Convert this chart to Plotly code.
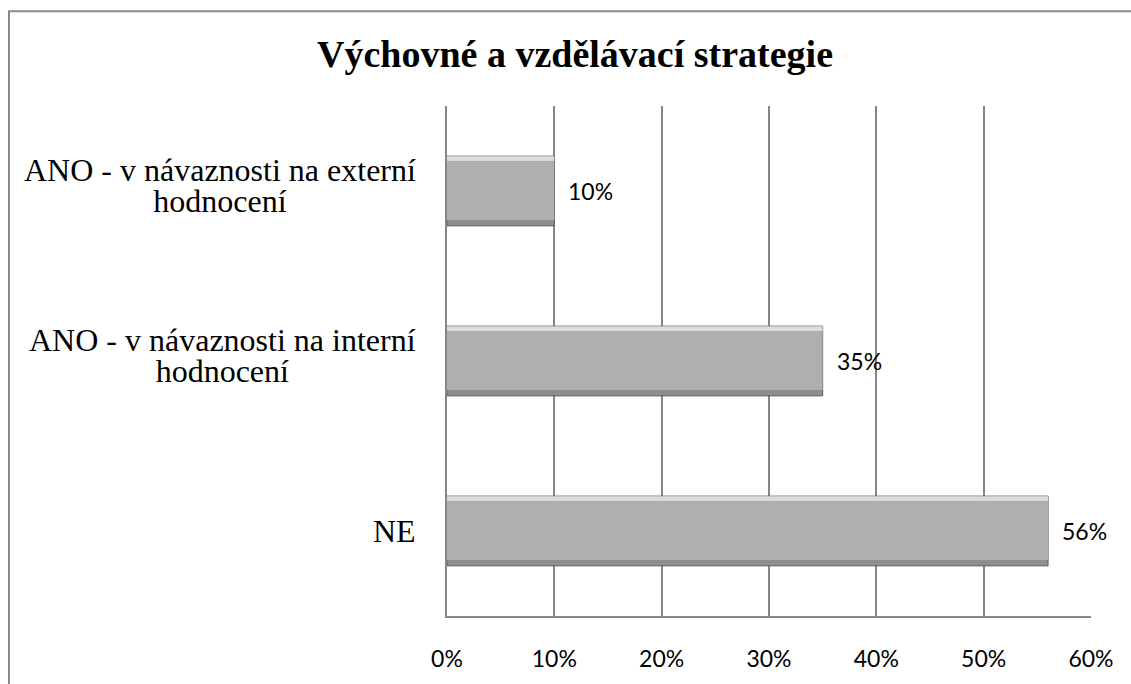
import plotly.graph_objects as go

# ---- data ----
categories = [
    "ANO - v návaznosti na externí\nhodnocení",
    "ANO - v návaznosti na interní\nhodnocení",
    "NE",
]
values = [0.10, 0.35, 0.56]
value_labels = ["10%", "35%", "56%"]
x_ticks = [0, 0.1, 0.2, 0.3, 0.4, 0.5, 0.6]
x_tick_labels = ["0%", "10%", "20%", "30%", "40%", "50%", "60%"]
title_text = "Výchovné a vzdělávací strategie"

# ---- layout geometry (pixels) ----
W, H = 1131, 684
ML, MR, MT, MB = 447, 40, 106, 61
PW, PH = W - ML - MR, H - MT - MB

GRID = "#868686"
SERIF = "Liberation Serif, Times New Roman, serif"
SANS = "Lato, Carlito, Calibri, sans-serif"

BW = 0.41   # bar thickness (category units)
HL = 0.03   # top highlight thickness
DK = 0.035  # bottom shade thickness

fig = go.Figure()
# bar body (dark bevel / outline)
fig.add_trace(go.Bar(
    y=categories, x=values, orientation="h",
    width=BW, offset=-BW / 2,
    marker=dict(color="#8e8e8e", line=dict(color="#5a5a5a", width=1)),
    hoverinfo="skip",
))
# top highlight bevel
fig.add_trace(go.Bar(
    y=categories, x=values, orientation="h",
    width=HL, offset=BW / 2 - HL,
    marker=dict(color="#dcdcdc", line=dict(width=0)),
    hoverinfo="skip",
))
# bar face
fig.add_trace(go.Bar(
    y=categories, x=values, orientation="h",
    width=BW - HL - DK, offset=-BW / 2 + DK,
    marker=dict(color="#afafaf", line=dict(width=0)),
    hoverinfo="skip",
))

annotations = []
# data labels
for c, v, t in zip(categories, values, value_labels):
    annotations.append(dict(
        x=v, y=c, xref="x", yref="y", text=t, showarrow=False,
        xanchor="left", yanchor="middle", xshift=12,
        font=dict(family=SANS, size=23, color="#000000"),
    ))
# category labels (centered lines, right-aligned block)
for c in categories:
    lines = c.split("\n")
    txt = "<br>".join('<span style="font-size:32px">%s</span>' % ln for ln in lines)
    annotations.append(dict(
        x=-(ML - 418) / PW, y=c, xref="paper", yref="y", text=txt,
        showarrow=False, xanchor="right", yanchor="middle", align="center",
        yshift=6 if len(lines) > 1 else 0,
        font=dict(family=SERIF, size=24, color="#000000"),
    ))
# title
annotations.append(dict(
    x=(575 - ML) / PW, y=(H - MB - 53) / PH, xref="paper", yref="paper",
    text="<b>%s</b>" % title_text, showarrow=False,
    xanchor="center", yanchor="middle",
    font=dict(family=SERIF, size=38, color="#000000"),
))

fig.update_layout(
    width=W, height=H,
    margin=dict(l=ML, r=MR, t=MT, b=MB, pad=0),
    paper_bgcolor="white", plot_bgcolor="white",
    showlegend=False,
    barmode="overlay",
    annotations=annotations,
    shapes=[dict(
        type="rect", xref="paper", yref="paper",
        x0=(9 - ML) / PW, x1=1.2, y0=-0.3, y1=(H - MB - 10) / PH,
        line=dict(color="#8a8a8a", width=2), fillcolor="rgba(0,0,0,0)",
        layer="below",
    )],
    xaxis=dict(
        range=[0, 0.6], tickvals=x_ticks, ticktext=x_tick_labels,
        showgrid=True, gridcolor=GRID, gridwidth=1.5,
        showline=True, linecolor=GRID, linewidth=1.5,
        zeroline=False, ticks="", ticklabelstandoff=22,
        tickfont=dict(family=SANS, size=23, color="#000000"),
        fixedrange=True,
    ),
    yaxis=dict(
        categoryorder="array", categoryarray=categories[::-1],
        showticklabels=False, showgrid=False,
        showline=True, linecolor=GRID, linewidth=1.5,
        zeroline=False, ticks="", fixedrange=True,
    ),
)

fig.write_html(
    "out.html",
    config={"displayModeBar": False},
    post_script="document.body.style.margin='0';document.body.style.overflow='hidden';",
)
